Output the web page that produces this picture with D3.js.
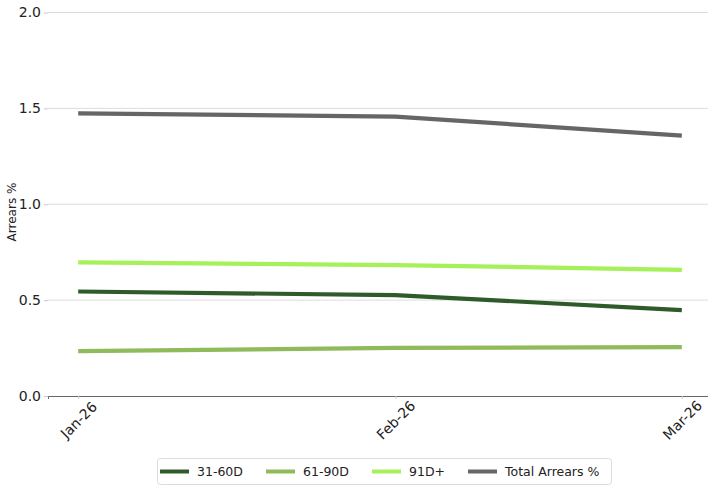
<!DOCTYPE html>
<html>
<head>
<meta charset="utf-8">
<script src="https://cdn.jsdelivr.net/npm/d3@7"></script>
<style>
  html, body { margin: 0; padding: 0; background: #fff; }
  svg { display: block; font-family: "DejaVu Sans", sans-serif; }
</style>
</head>
<body>
<svg id="chart" width="708" height="487"></svg>
<script>
// Monthly arrears rates (%)
const months = ["2026-01-01", "2026-02-01", "2026-03-01"];
const monthLabels = ["Jan-26", "Feb-26", "Mar-26"];
const arrears31to60 = [0.545, 0.526, 0.448];
const arrears61to90 = [0.234, 0.251, 0.255];
const arrears91plus = [0.697, 0.683, 0.658];
const arrearsTotal = [1.474, 1.457, 1.358];
const seriesNames = ["31-60D", "61-90D", "91D+", "Total Arrears %"];
const seriesColors = ["#2e5b29", "#8fbb5b", "#a6f05a", "#666666"];
const yTicks = [0, 0.5, 1.0, 1.5, 2.0];

const seriesValues = [arrears31to60, arrears61to90, arrears91plus, arrearsTotal];
const parse = d3.utcParse("%Y-%m-%d");
const dates = months.map(parse);

const svg = d3.select("#chart");
const plot = { left: 48, right: 712, top: 12.5, bottom: 396 };

// time scale with 5% padding on each side of the data range
const t0 = dates[0].getTime(), t1 = dates[dates.length - 1].getTime();
const pad = (t1 - t0) * 0.05;
const x = d3.scaleUtc()
  .domain([new Date(t0 - pad), new Date(t1 + pad)])
  .range([plot.left, plot.right]);
const y = d3.scaleLinear().domain([0, 2]).range([plot.bottom, plot.top]);

// horizontal gridlines
svg.append("g").selectAll("line")
  .data(yTicks.filter(v => v > 0))
  .join("line")
  .attr("x1", plot.left).attr("x2", plot.right)
  .attr("y1", d => y(d)).attr("y2", d => y(d))
  .attr("stroke", "#dcdcdc").attr("stroke-width", 1);

// y axis (tick marks and labels, no spine)
const yAxis = svg.append("g")
  .attr("transform", `translate(${plot.left},0)`)
  .call(d3.axisLeft(y).tickValues(yTicks).tickFormat(d3.format(".1f")).tickSize(4).tickPadding(3));
yAxis.select(".domain").remove();
yAxis.selectAll(".tick line").attr("stroke", "#c8c8c8");
yAxis.selectAll(".tick text")
  .attr("font-size", 14).attr("fill", "#222")
  .attr("font-family", "DejaVu Sans, sans-serif");

// bottom axis
const xAxis = svg.append("g")
  .attr("transform", `translate(0,${plot.bottom})`)
  .call(d3.axisBottom(x).tickValues(dates).tickSize(3).tickFormat((d, i) => monthLabels[i]));
xAxis.select(".domain").attr("stroke", "#666").attr("stroke-width", 1);
xAxis.selectAll(".tick line").attr("stroke", "#c8c8c8");
xAxis.selectAll(".tick text")
  .attr("font-size", 14).attr("fill", "#222")
  .attr("font-family", "DejaVu Sans, sans-serif")
  .attr("text-anchor", "middle")
  .attr("dy", null)
  .attr("dominant-baseline", "central")
  .attr("y", 0)
  .attr("transform", "translate(0,24) rotate(-45)");

// y axis title
svg.append("text")
  .attr("transform", `translate(12,212) rotate(-90)`)
  .attr("text-anchor", "middle")
  .attr("dominant-baseline", "central")
  .attr("font-size", 12).attr("fill", "#222")
  .text("Arrears %");

// series lines
const line = d3.line().x((d, i) => x(dates[i])).y(d => y(d));
svg.append("g").selectAll("path")
  .data(seriesValues)
  .join("path")
  .attr("d", d => line(d))
  .attr("fill", "none")
  .attr("stroke", (d, i) => seriesColors[i])
  .attr("stroke-width", 4.2)
  .attr("stroke-linejoin", "round");

// legend
const legend = svg.append("g");
legend.append("rect")
  .attr("x", 157.5).attr("y", 458.5).attr("width", 454).attr("height", 26)
  .attr("rx", 3)
  .attr("fill", "#fff").attr("stroke", "#dcdcdc");
const legendX = [160, 266, 372, 468];
const items = legend.selectAll("g.item")
  .data(seriesNames)
  .join("g").attr("class", "item")
  .attr("transform", (d, i) => `translate(${legendX[i]},471.5)`);
items.append("line")
  .attr("x1", 0).attr("x2", 29).attr("y1", 0).attr("y2", 0)
  .attr("stroke", (d, i) => seriesColors[i]).attr("stroke-width", 4);
items.append("text")
  .attr("x", 37).attr("y", 0)
  .attr("dominant-baseline", "central")
  .attr("font-size", 12.5).attr("fill", "#222")
  .text(d => d);
</script>
</body>
</html>
